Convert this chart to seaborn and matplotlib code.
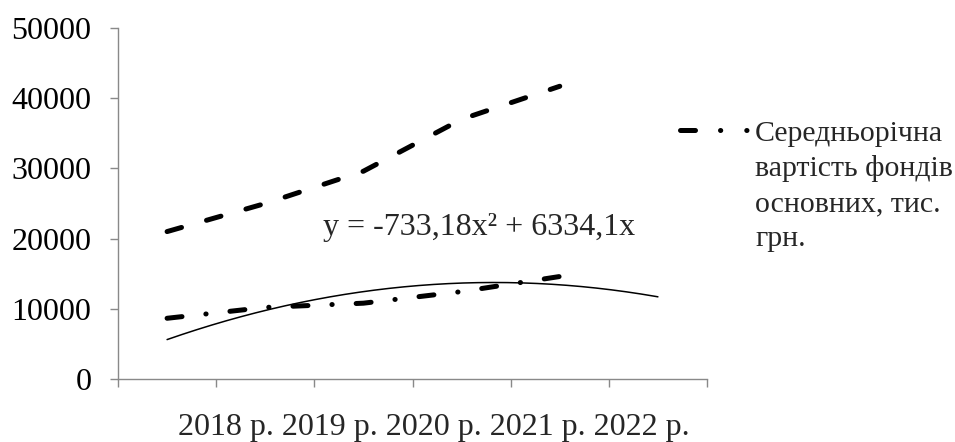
import numpy as np
import pandas as pd
import seaborn as sns
import matplotlib.pyplot as plt
from matplotlib.lines import Line2D

# values
years = ['2018 р.', '2019 р.', '2020 р.', '2021 р.', '2022 р.']
fixed_assets = [21000, 25000, 29600, 37000, 41700]   # dashed line (no legend entry)
avg_cost = [8650, 10200, 10800, 12450, 14600]        # dash-dot line
legend_lines = ['Середньорічна', 'вартість фондів', 'основних, тис.', 'грн.']
trend_label = 'y = -733,18x² + 6334,1x'
y_ticks = [0, 10000, 20000, 30000, 40000, 50000]

df = pd.DataFrame({'pos': np.arange(1, len(years) + 1),
                   'fixed': fixed_assets,
                   'avg': avg_cost})

# polynomial trend (order 2, intercept = 0), forecast one period forward
A = np.column_stack([df['pos'] ** 2, df['pos']])
coef = np.linalg.lstsq(A, df['avg'].to_numpy(dtype=float), rcond=None)[0]
xs = np.linspace(1, len(years) + 1, 200)
trend = pd.DataFrame({'x': xs, 'y': coef[0] * xs ** 2 + coef[1] * xs})

sns.set_style('ticks')
plt.rcParams['font.family'] = ['Liberation Serif', 'DejaVu Serif']
axis_grey = '#898989'

fig = plt.figure(figsize=(9.55, 4.42), dpi=100)
ax = fig.add_axes([118 / 955, 1 - 379 / 442, 589 / 955, 351 / 442])

lw = 3.6
sns.lineplot(data=df, x='pos', y='fixed', ax=ax, color='black', linewidth=lw,
             linestyle=(0, (3.0, 5.2)), dash_capstyle='round')
sns.lineplot(data=df, x='pos', y='avg', ax=ax, color='black', linewidth=lw,
             linestyle=(0, (3, 4.8, 0.05, 4.8)), dash_capstyle='round')
sns.lineplot(data=trend, x='x', y='y', ax=ax, color='black', linewidth=1.1)

ax.set_xlim(0.5, len(years) + 1.5)
ax.set_ylim(0, 50000)
ax.set_xticks(np.arange(0.5, len(years) + 2, 1))
ax.set_xticklabels([])
ax.set_yticks(y_ticks)
ax.set_yticklabels([str(v) for v in y_ticks], fontsize=23)
ax.set_xlabel('')
ax.set_ylabel('')
sns.despine(ax=ax)
for s in ['left', 'bottom']:
    ax.spines[s].set_color(axis_grey)
    ax.spines[s].set_linewidth(1.0)
ax.tick_params(axis='both', colors=axis_grey, length=6, width=1.0, direction='out')
ax.tick_params(axis='y', labelcolor='black', pad=13)

# category labels run as one line under the axis
ax.text(0.537, -0.16, ' '.join(years), transform=ax.transAxes, ha='center',
        va='baseline', fontsize=23, clip_on=False)

ax.text(0.348, 0.41, trend_label, transform=ax.transAxes, ha='left',
        va='baseline', fontsize=23)

# legend: only the dash-dot series
proxy = Line2D([], [], color='black', linewidth=lw, dash_capstyle='round',
               linestyle=(0, (3, 5, 0.05, 5.2, 0.05, 10)))
leg = ax.legend(handles=[proxy], labels=[legend_lines[0]], loc='upper left',
                bbox_to_anchor=(680 / 955, 1 - 120 / 442),
                bbox_transform=fig.transFigure, frameon=False, borderpad=0,
                borderaxespad=0, handlelength=2.35, handletextpad=0.17,
                fontsize=21.5)
ax.annotate('\n'.join(legend_lines[1:]), xy=(0, 0), xycoords=leg.get_texts()[0],
            xytext=(0, -6), textcoords='offset points', ha='left', va='top',
            fontsize=21.5, linespacing=1.45, annotation_clip=False, zorder=10)

fig.savefig('out.png', dpi=100)
